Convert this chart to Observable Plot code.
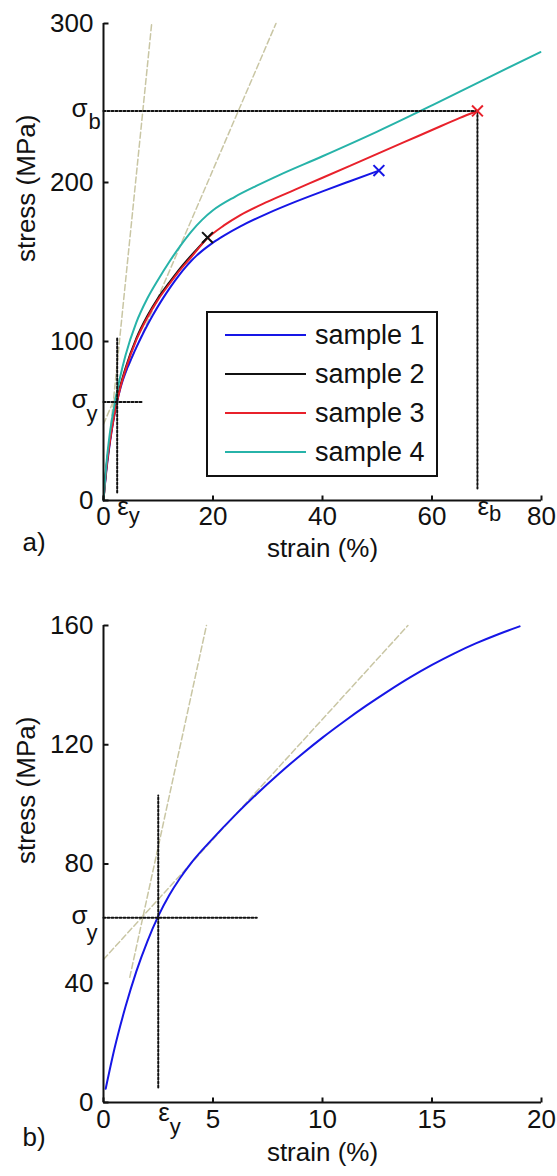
<!DOCTYPE html>
<html><head><meta charset="utf-8">
<script src="https://cdn.jsdelivr.net/npm/d3@7"></script>
<script src="https://cdn.jsdelivr.net/npm/@observablehq/plot@0.6"></script>
<style>
body{margin:0;background:#fff;font-family:"Liberation Sans",Arial,sans-serif;}
#wrap{position:relative;width:557px;height:1176px;overflow:hidden;}
#wrap svg{display:block;}
#legend{position:absolute;left:206px;top:311px;}
</style></head><body><div id="wrap"></div>
<script>
// ---------- data ----------
const sampleNames = ["sample 1", "sample 2", "sample 3", "sample 4"];
const sampleColors = ["#1616e6", "#111111", "#e8212b", "#27b3a9"];

const sample1Strain = [0.1, 0.5, 1.0, 1.5, 2.0, 2.5, 3.0, 3.5, 4, 5, 6, 7, 8, 9, 10, 11, 12, 13, 14, 15, 16, 17, 18, 19, 20, 22, 25, 30, 35, 40, 45, 50.3];
const sample1Stress = [4.6, 18, 32, 44, 54, 62.5, 69.5, 75.3, 80.3, 88.6, 96.3, 103.5, 110.2, 116.5, 122.4, 127.9, 133.1, 138.0, 142.6, 146.8, 150.6, 154.0, 157.0, 159.7, 162.2, 166.6, 172.4, 180.6, 187.8, 194.4, 200.8, 207.5];

const sample2Strain = [0, 0.5, 1, 2, 3, 4, 6, 8, 10, 12, 14, 16, 18, 19];
const sample2Stress = [0, 20, 34, 55.5, 71, 83, 102, 116, 127.5, 137, 146, 154, 161.5, 165.4];

const sample3Strain = [0, 0.5, 1, 2, 2.5, 3, 4, 6, 8, 10, 12, 14, 16, 19, 22, 25, 30, 35, 40, 45, 50, 55, 60, 65, 68.3];
const sample3Stress = [0, 19, 33, 54, 62.5, 70, 82, 101, 115, 126.5, 136, 145, 153, 165, 173, 179.5, 188, 195.5, 203, 210.5, 218, 225.5, 233, 240.5, 245];

const sample4Strain = [0, 0.5, 1, 2, 3, 4, 6, 8, 10, 12, 14, 16, 18, 20, 24, 28, 32, 40, 50, 60, 70, 79.8];
const sample4Stress = [0, 22, 38, 60, 77, 91, 112, 127, 139, 150, 160, 169, 176.5, 182.5, 191, 198, 204.5, 216.5, 232, 248.5, 265.5, 282];

const brokenSamples = [0, 1, 2]; // samples ending with a fracture mark

const yieldStrain = 2.5, yieldStress = 62;
const breakStrain = 68.3, breakStress = 245;
const yieldGuideStrainRange = [0, 7];
const yieldGuideStressRange = [5, 103];
const breakGuideFloor = 7.5;

// tangent (construction) lines
const steepStrainA = [1.2, 8.8], steepStressA = [42, 300];
const shallowStrainA = [0, 31.5], shallowStressA = [48, 300];
const steepStrainB = [1.2, 4.7], steepStressB = [42, 160];
const shallowStrainB = [0, 13.9], shallowStressB = [48, 160];

const ticksXA = [0, 20, 40, 60, 80], ticksYA = [0, 100, 200, 300];
const ticksXB = [0, 5, 10, 15, 20], ticksYB = [0, 40, 80, 120, 160];
const panelBMaxStrain = 19.04;

// ---------- helpers ----------
const zip = (xs, ys) => xs.map((x, i) => ({strain: x, stress: ys[i]}));
const samples = [
  zip(sample1Strain, sample1Stress),
  zip(sample2Strain, sample2Stress),
  zip(sample3Strain, sample3Stress),
  zip(sample4Strain, sample4Stress)
];
const FONT = "Liberation Sans, Arial, sans-serif";
const tickUp = {draw(ctx) { ctx.moveTo(0, 0); ctx.lineTo(0, -5); }};
const tickRight = {draw(ctx) { ctx.moveTo(0, 0); ctx.lineTo(5, 0); }};
const guideStyle = {stroke: "#c9c6a4", strokeWidth: 1.5, strokeDasharray: "6,3"};
const dotStyle = {stroke: "#111", strokeWidth: 2, strokeDasharray: "2,2"};

function panel(cfg) {
  const marks = [];
  marks.push(Plot.line(zip(cfg.steep[0], cfg.steep[1]), {x: "strain", y: "stress", ...guideStyle}));
  marks.push(Plot.line(zip(cfg.shallow[0], cfg.shallow[1]), {x: "strain", y: "stress", ...guideStyle}));
  cfg.curves.forEach(c => marks.push(Plot.line(c.data, {x: "strain", y: "stress", stroke: c.color, strokeWidth: 2, curve: "monotone-x"})));
  marks.push(Plot.line([{strain: yieldGuideStrainRange[0], stress: yieldStress}, {strain: yieldGuideStrainRange[1], stress: yieldStress}], {x: "strain", y: "stress", ...dotStyle}));
  marks.push(Plot.line([{strain: yieldStrain, stress: yieldGuideStressRange[0]}, {strain: yieldStrain, stress: yieldGuideStressRange[1]}], {x: "strain", y: "stress", ...dotStyle}));
  if (cfg.breakGuides) {
    marks.push(Plot.line([{strain: 0, stress: breakStress}, {strain: breakStrain, stress: breakStress}], {x: "strain", y: "stress", ...dotStyle}));
    marks.push(Plot.line([{strain: breakStrain, stress: breakStress}, {strain: breakStrain, stress: breakGuideFloor}], {x: "strain", y: "stress", ...dotStyle}));
  }
  (cfg.markers || []).forEach(m => marks.push(Plot.dot([m.point], {x: "strain", y: "stress", symbol: "times", r: 5, stroke: m.color, strokeWidth: 2})));
  // axes
  marks.push(Plot.ruleX([cfg.xDomain[0]], {stroke: "#111", strokeWidth: 2}));
  marks.push(Plot.ruleY([cfg.yDomain[0]], {stroke: "#111", strokeWidth: 2}));
  marks.push(Plot.dot(cfg.xTicks, {x: d => d, frameAnchor: "bottom", symbol: tickUp, fill: "none", stroke: "#111", strokeWidth: 2}));
  marks.push(Plot.dot(cfg.yTicks, {y: d => d, frameAnchor: "left", symbol: tickRight, fill: "none", stroke: "#111", strokeWidth: 2}));
  marks.push(Plot.text(cfg.xTicks, {x: d => d, text: d => String(d), frameAnchor: "bottom", dy: cfg.tickDy, fontSize: 26, fill: "#111"}));
  marks.push(Plot.text(cfg.yTicks, {y: d => d, text: d => String(d), frameAnchor: "left", dx: -10, textAnchor: "end", fontSize: 26, fill: "#111"}));
  // symbolic tick labels
  const xSym = [yieldStrain].concat(cfg.breakGuides ? [breakStrain] : []);
  marks.push(Plot.text(xSym, {x: d => d, text: () => "ε", frameAnchor: "bottom", textAnchor: "start", dy: cfg.epsDy, fontSize: 26, fill: "#111"}));
  marks.push(Plot.text([yieldStrain], {x: d => d, text: () => "y", frameAnchor: "bottom", textAnchor: "start", dx: 11.5, dy: cfg.epsSubDy, fontSize: 22, fill: "#111"}));
  if (cfg.breakGuides) marks.push(Plot.text([breakStrain], {x: d => d, text: () => "b", frameAnchor: "bottom", textAnchor: "start", dx: 11.5, dy: cfg.epsSubDy - 2, fontSize: 22, fill: "#111"}));
  const ySym = [yieldStress].concat(cfg.breakGuides ? [breakStress] : []);
  marks.push(Plot.text(ySym, {y: d => d, text: () => "σ", frameAnchor: "left", textAnchor: "end", dx: -16, dy: -2, fontSize: 26, fill: "#111"}));
  marks.push(Plot.text([yieldStress], {y: d => d, text: () => "y", frameAnchor: "left", textAnchor: "start", dx: -17, dy: cfg.sigSubDy, fontSize: 22, fill: "#111"}));
  if (cfg.breakGuides) marks.push(Plot.text([breakStress], {y: d => d, text: () => "b", frameAnchor: "left", textAnchor: "start", dx: -15, dy: 11, fontSize: 22, fill: "#111"}));
  // axis titles and panel letter
  marks.push(Plot.text(["strain (%)"], {frameAnchor: "bottom", dy: cfg.xLabelDy, fontSize: 26, fill: "#111"}));
  marks.push(Plot.text(["stress (MPa)"], {frameAnchor: "left", dx: -77, rotate: -90, fontSize: 26, fill: "#111"}));
  marks.push(Plot.text([cfg.letter], {frameAnchor: "bottom-left", dx: -81, dy: cfg.letterDy, textAnchor: "start", fontSize: 26, fill: "#111"}));

  return Plot.plot({
    width: 557, height: cfg.height,
    marginTop: cfg.marginTop, marginRight: 16, marginBottom: cfg.height - cfg.marginTop - 477, marginLeft: 103,
    x: {domain: cfg.xDomain, axis: null},
    y: {domain: cfg.yDomain, axis: null},
    style: {fontFamily: FONT, background: "white", overflow: "visible"},
    marks
  });
}

const wrap = document.getElementById("wrap");
wrap.appendChild(panel({
  height: 590, marginTop: 23,
  xDomain: [0, 80], yDomain: [0, 300], xTicks: ticksXA, yTicks: ticksYA,
  steep: [steepStrainA, steepStressA], shallow: [shallowStrainA, shallowStressA],
  curves: samples.map((d, i) => ({data: d, color: sampleColors[i]})),
  markers: brokenSamples.map(i => ({point: samples[i][samples[i].length - 1], color: sampleColors[i]})),
  breakGuides: true,
  tickDy: 24, epsDy: 14, epsSubDy: 22, sigSubDy: 12, xLabelDy: 56, letterDy: 50, letter: "a)"
}));
wrap.appendChild(panel({
  height: 586, marginTop: 35,
  xDomain: [0, 20], yDomain: [0, 160], xTicks: ticksXB, yTicks: ticksYB,
  steep: [steepStrainB, steepStressB], shallow: [shallowStrainB, shallowStressB],
  curves: [{data: samples[0].filter(d => d.strain <= panelBMaxStrain), color: sampleColors[0]}],
  markers: [],
  breakGuides: false,
  tickDy: 25, epsDy: 18, epsSubDy: 31, sigSubDy: 15, xLabelDy: 58, letterDy: 43, letter: "b)"
}));

// legend
const lg = d3.select(wrap).append("svg").attr("id", "legend").attr("width", 233).attr("height", 167);
lg.append("rect").attr("x", 1).attr("y", 1).attr("width", 230).attr("height", 164).attr("fill", "white").attr("stroke", "#111").attr("stroke-width", 2);
sampleNames.forEach((name, i) => {
  const y = 24 + i * 39;
  lg.append("line").attr("x1", 19).attr("x2", 100).attr("y1", y).attr("y2", y).attr("stroke", sampleColors[i]).attr("stroke-width", 2);
  lg.append("text").attr("x", 109).attr("y", y).attr("dy", "0.35em").attr("font-size", 27).attr("font-family", FONT).attr("fill", "#111").text(name);
});
</script></body></html>
